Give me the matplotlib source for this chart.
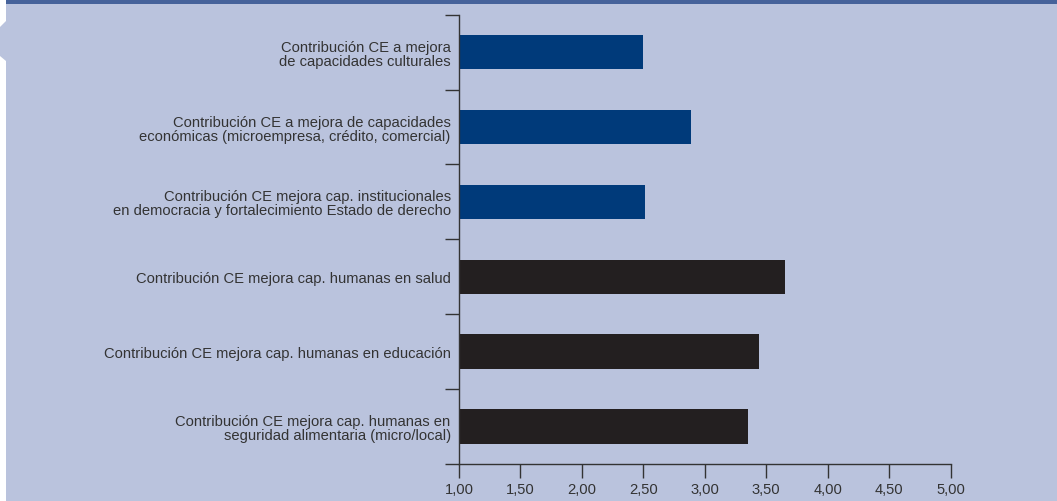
import matplotlib
matplotlib.use("Agg")
import matplotlib.pyplot as plt
from matplotlib.patches import Rectangle, Polygon

plt.rcParams['font.family'] = ['Liberation Sans', 'DejaVu Sans']

# categories top to bottom
labels = [
    "Contribución CE a mejora\nde capacidades culturales",
    "Contribución CE a mejora de capacidades\neconómicas (microempresa, crédito, comercial)",
    "Contribución CE mejora cap. institucionales\nen democracia y fortalecimiento Estado de derecho",
    "Contribución CE mejora cap. humanas en salud",
    "Contribución CE mejora cap. humanas en educación",
    "Contribución CE mejora cap. humanas en\nseguridad alimentaria (micro/local)",
]
values = [2.50, 2.89, 2.51, 3.65, 3.44, 3.35]
groups = ["b", "b", "b", "k", "k", "k"]
xticks = [1.0, 1.5, 2.0, 2.5, 3.0, 3.5, 4.0, 4.5, 5.0]

bg = "#bac3dd"
colors = {"b": "#003a7a", "k": "#231f20"}
txt = "#333333"

W, H = 1057, 502
fig = plt.figure(figsize=(W / 100, H / 100), dpi=100, facecolor=bg)

# white margin on the left with a small notch, and the top band
fig.patches.append(Rectangle((0, 0), 6 / W, 1, transform=fig.transFigure,
                             facecolor="white", edgecolor="none"))
fig.patches.append(Polygon([(6 / W, 1 - 22 / H), (0, 1 - 28 / H), (0, 1 - 57 / H),
                            (6 / W, 1 - 62 / H)], closed=True, transform=fig.transFigure,
                           facecolor=bg, edgecolor="none"))
fig.patches.append(Rectangle((6 / W, 1 - 5 / H), 1, 5 / H, transform=fig.transFigure,
                             facecolor="#46629a", edgecolor="none"))

ax = fig.add_axes([459 / W, 1 - 465 / H, (950.5 - 459) / W, (465 - 15.7) / H])
ax.set_facecolor(bg)

n = len(values)
ypos = list(range(n))
ax.barh(ypos, [v - 1 for v in values], left=1, height=0.46,
        color=[colors[g] for g in groups])
ax.set_ylim(n - 0.5, -0.5)
ax.set_xlim(1, 5)

ax.set_yticks(ypos)
ax.set_yticklabels(labels, fontsize=10.6, color=txt, linespacing=1.0)
ax.tick_params(axis="y", which="major", length=0, pad=6)
ax.set_yticks([i - 0.5 for i in range(n + 1)], minor=True)
ax.tick_params(axis="y", which="minor", length=10, width=1, color=txt)

ax.set_xticks(xticks)
ax.set_xticklabels([f"{t:.2f}".replace(".", ",") for t in xticks],
                   fontsize=10.6, color=txt)
ax.tick_params(axis="x", length=10, width=1, color=txt, pad=3)

for s in ["top", "right"]:
    ax.spines[s].set_visible(False)
for s in ["left", "bottom"]:
    ax.spines[s].set_color(txt)
    ax.spines[s].set_linewidth(1)

fig.savefig("out.png", dpi=100, facecolor=bg)
